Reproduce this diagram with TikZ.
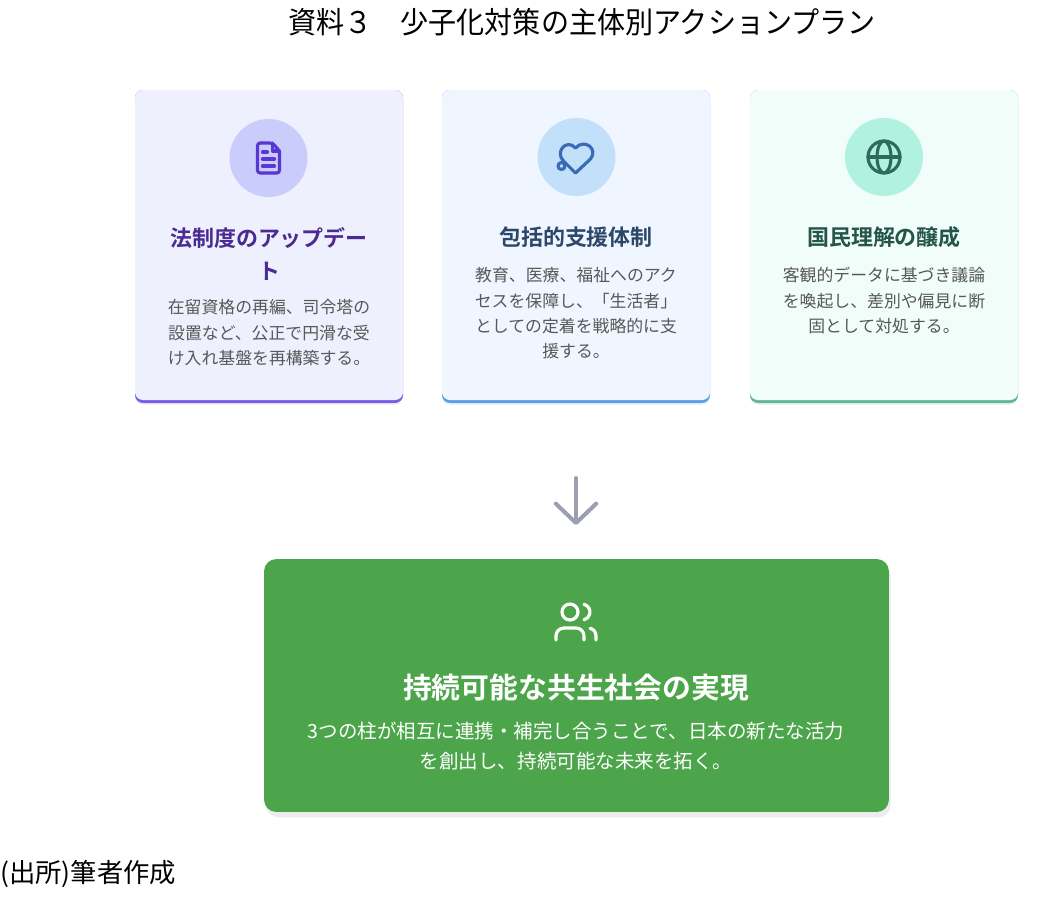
\documentclass[tikz,border=0pt]{standalone}
\usepackage{fontspec}
\setmainfont{Noto Sans CJK JP}[BoldFont={Noto Sans CJK JP Bold}]
\usetikzlibrary{shadows,arrows.meta}

\definecolor{cardfillA}{HTML}{EEF0FE}
\definecolor{cardlineA}{HTML}{7B5CE8}
\definecolor{badgeA}{HTML}{CACCFC}
\definecolor{iconA}{HTML}{5A36D2}
\definecolor{headA}{HTML}{4B2A92}
\definecolor{cardfillB}{HTML}{EFF6FF}
\definecolor{cardlineB}{HTML}{5B9EE9}
\definecolor{badgeB}{HTML}{C3E0FB}
\definecolor{iconB}{HTML}{3A6CB5}
\definecolor{headB}{HTML}{2C4768}
\definecolor{cardfillC}{HTML}{F0FDF9}
\definecolor{cardlineC}{HTML}{5FB89C}
\definecolor{badgeC}{HTML}{B0F2DF}
\definecolor{iconC}{HTML}{2F6B5C}
\definecolor{headC}{HTML}{235649}
\definecolor{bodygray}{HTML}{585858}
\definecolor{arrowgray}{HTML}{9CA0AE}
\definecolor{goalgreen}{HTML}{4CA54A}

\tikzset{
    card/.style={rounded corners=4.5pt},
    cardshadow/.style={drop shadow={opacity=.10,shadow xshift=0pt,shadow yshift=-1pt}},
    badge/.style={circle,minimum size=1.56cm,inner sep=0pt},
    icon/.style={line width=1.8pt,line cap=round,line join=round},
    cardhead/.style={font=\bfseries\fontsize{12.5}{18.7}\selectfont,align=center,inner sep=0pt},
    cardbody/.style={text=bodygray,font=\fontsize{9.6}{14.5}\selectfont,align=center,inner sep=0pt},
    goalbox/.style={fill=goalgreen,rounded corners=7pt,minimum width=12.5cm,minimum height=5.06cm,inner sep=0pt,
        drop shadow={opacity=.15,shadow xshift=1pt,shadow yshift=-3pt}},
    flow/.style={arrowgray,line width=2.3pt,line cap=round,-{Straight Barb[length=11pt,width=23pt,round]}}
}

\begin{document}
\begin{tikzpicture}[x=0.02cm,y=-0.02cm]
    \useasboundingbox (0,0) rectangle (1047,899);

    % title
    \node[inner sep=0pt,font=\fontsize{17}{20}\selectfont] (title) at (582,22)
        {\scalebox{0.94}[1]{資料３　少子化対策の主体別アクションプラン}};

    % cards
    \fill[cardlineA,card,cardshadow] (135,90) rectangle (403,403);
    \fill[cardfillA,card] (135,90) rectangle (403,400);
    \fill[cardlineB,card,cardshadow] (442,90) rectangle (710,403);
    \fill[cardfillB,card] (442,90) rectangle (710,400);
    \fill[cardlineC,card,cardshadow] (750,90) rectangle (1018,403);
    \fill[cardfillC,card] (750,90) rectangle (1018,400);

    % badges
    \node[badge,fill=badgeA] (badgeA) at (268.5,158) {};
    \node[badge,fill=badgeB] (badgeB) at (576.5,157) {};
    \node[badge,fill=badgeC] (badgeC) at (884,157) {};

    % document icon
    \begin{scope}[shift={(badgeA.center)},iconA]
        \draw[icon,rounded corners=1.5pt] (4,-15) -- (-11,-15) -- (-11,15) -- (11,15) -- (11,-7) -- cycle;
        \draw[icon] (4,-15) -- (4,-7) -- (11,-7);
        \draw[icon] (-6,-6) -- (-1,-6);
        \draw[icon] (-6,1) -- (6,1);
        \draw[icon] (-6,8) -- (6,8);
    \end{scope}

    % heart icon
    \begin{scope}[shift={(badgeB.center)},iconB]
        \draw[icon] (-1,16) -- (-13,4) .. controls (-22,-5) and (-10,-19) .. (-1,-9)
            .. controls (8,-19) and (22,-8) .. (14,2) -- cycle;
        \draw[icon,fill=badgeB] (-15,9) circle (3.5);
    \end{scope}

    % globe icon
    \begin{scope}[shift={(badgeC.center)},iconC]
        \draw[icon] (0,0) circle (16);
        \draw[icon] (0,0) ellipse (7 and 16);
        \draw[icon] (-16,0) -- (16,0);
    \end{scope}

    % card texts
    \node[cardhead,text=headA,anchor=north] (headA) at (269,227) {法制度のアップデー\\ト};
    \node[cardbody,anchor=north] (bodyA) at (269,299) {在留資格の再編、司令塔の\\設置など、公正で円滑な受\\け入れ基盤を再構築する。};
    \node[cardhead,text=headB] (headB) at (576,237) {包括的支援体制};
    \node[cardbody,anchor=north] (bodyB) at (576,267) {教育、医療、福祉へのアク\\セスを保障し、「生活者」\\としての定着を戦略的に支\\援する。};
    \node[cardhead,text=headC] (headC) at (884,237) {国民理解の醸成};
    \node[cardbody,anchor=north] (bodyC) at (884,267) {客観的データに基づき議論\\を喚起し、差別や偏見に断\\固として対処する。};

    % arrow
    \coordinate (arrtop) at (576,478);
    \coordinate (arrbot) at (576,525);
    \draw[flow] (arrtop) -- (arrbot);

    % goal
    \node[goalbox] (goal) at (576.5,685.5) {};
    \begin{scope}[shift={(576,622)},white]
        \draw[icon] (-6,-10) circle (8);
        \draw[icon,rounded corners=4.5pt] (8,18) -- (8,6) -- (-20,6) -- (-20,18);
        \draw[icon] (8,-17.7) arc (-75.4:75.4:8);
        \draw[icon] (20,18) -- (20,14) .. controls (20,10) and (17.5,7) .. (14,6.3);
    \end{scope}
    \node[inner sep=0pt,text=white,font=\bfseries\fontsize{16.4}{20}\selectfont] (goalhead) at (576,688) {持続可能な共生社会の実現};
    \node[inner sep=0pt,text=white,align=center,anchor=north,font=\fontsize{11.1}{17}\selectfont] (goalbody) at (576,722)
        {3つの柱が相互に連携・補完し合うことで、日本の新たな活力\\を創出し、持続可能な未来を拓く。};

    % source
    \node[inner sep=0pt,anchor=west,font=\fontsize{15}{18}\selectfont] (source) at (0,873.5) {(出所)筆者作成};
\end{tikzpicture}
\end{document}
